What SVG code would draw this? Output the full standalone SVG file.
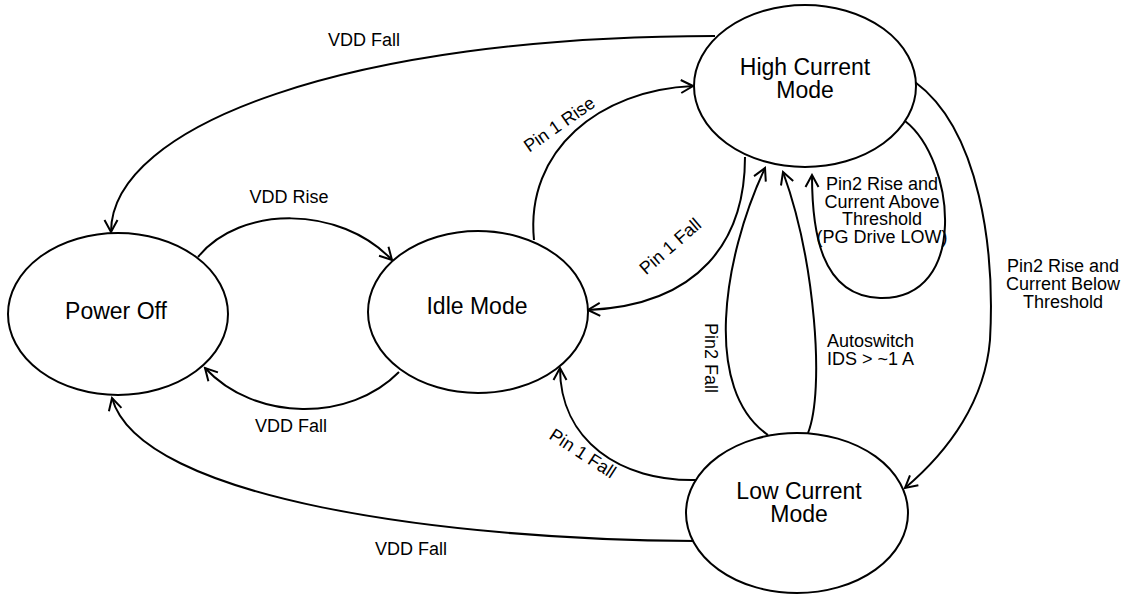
<svg xmlns="http://www.w3.org/2000/svg" width="1136" height="594" viewBox="0 0 1136 594">
<style>
.node ellipse{fill:#fff;stroke:#000;stroke-width:2}
.node text{font-family:"Liberation Sans",Arial,sans-serif;font-size:23px;fill:#000;text-anchor:middle}
.edge{fill:none;stroke:#000;stroke-width:2;marker-end:url(#arr)}
.lbl{font-family:"Liberation Sans",Arial,sans-serif;font-size:18px;fill:#000;text-anchor:middle}
.lbl-s{text-anchor:start}
</style>
<defs>
<marker id="arr" viewBox="-14 -8 16 16" markerWidth="16" markerHeight="16" refX="0" refY="0" orient="auto" markerUnits="userSpaceOnUse">
<path d="M-12,-6.5 L0,0 L-12,6.5" fill="none" stroke="#000" stroke-width="2"/>
</marker>
</defs>
<rect width="1136" height="594" fill="#fff"/>
<g id="connectors">
<path class="edge" d="M715,36 C350,36 111,125 111,232"/>
<path class="edge" d="M534,240 C525,150 600,90 693,86"/>
<path class="edge" d="M745,157 C745,240 700,305 588,310"/>
<path class="edge" d="M198,257 C240,205 340,205 392,260"/>
<path class="edge" d="M399,372 C350,422 255,422 205,368"/>
<path class="edge" d="M697,480 C620,482 560,440 560,368"/>
<path class="edge" d="M768,435 C703,390 722,260 765,168"/>
<path class="edge" d="M808,433 C825,390 815,260 783,172"/>
<path class="edge" d="M905,121 C955,160 970,300 880,298 C820,296 812,230 812,175"/>
<path class="edge" d="M915,82 C980,130 995,250 990,340 C985,400 950,450 905,488"/>
<path class="edge" d="M695,541 C450,540 140,500 112,398"/>
</g>
<g id="labels">
<text class="lbl" x="364" y="46">VDD Fall</text>
<text class="lbl" transform="translate(559,124) rotate(-35)" x="0" y="6.5">Pin 1 Rise</text>
<text class="lbl" transform="translate(670,246) rotate(-41)" x="0" y="6.5">Pin 1 Fall</text>
<text class="lbl" x="289" y="203">VDD Rise</text>
<text class="lbl" x="291" y="432">VDD Fall</text>
<text class="lbl" transform="translate(583,453) rotate(33)" x="0" y="6.5">Pin 1 Fall</text>
<text class="lbl" transform="translate(711,358) rotate(90)" x="0" y="6.5">Pin2 Fall</text>
<text class="lbl lbl-s" x="827" y="347">Autoswitch</text>
<text class="lbl lbl-s" x="827" y="365">IDS &gt; ~1 A</text>
<text class="lbl" x="882" y="190">Pin2 Rise and</text>
<text class="lbl" x="882" y="207.7">Current Above</text>
<text class="lbl" x="882" y="225.4">Threshold</text>
<text class="lbl" x="882" y="243">(PG Drive LOW)</text>
<text class="lbl" x="1063" y="272">Pin2 Rise and</text>
<text class="lbl" x="1063" y="290">Current Below</text>
<text class="lbl" x="1063" y="308">Threshold</text>
<text class="lbl" x="411" y="555">VDD Fall</text>
</g>
<g id="power-off" class="node">
<ellipse cx="118" cy="314" rx="110" ry="81"/>
<text x="116" y="319">Power Off</text>
</g>
<g id="idle-mode" class="node">
<ellipse cx="478" cy="312" rx="110" ry="81"/>
<text x="477" y="314">Idle Mode</text>
</g>
<g id="high-current-mode" class="node">
<ellipse cx="805" cy="86" rx="111" ry="81"/>
<text x="805" y="75">High Current</text>
<text x="805" y="98">Mode</text>
</g>
<g id="low-current-mode" class="node">
<ellipse cx="797" cy="513" rx="111" ry="80"/>
<text x="799" y="499">Low Current</text>
<text x="799" y="522">Mode</text>
</g>
</svg>
